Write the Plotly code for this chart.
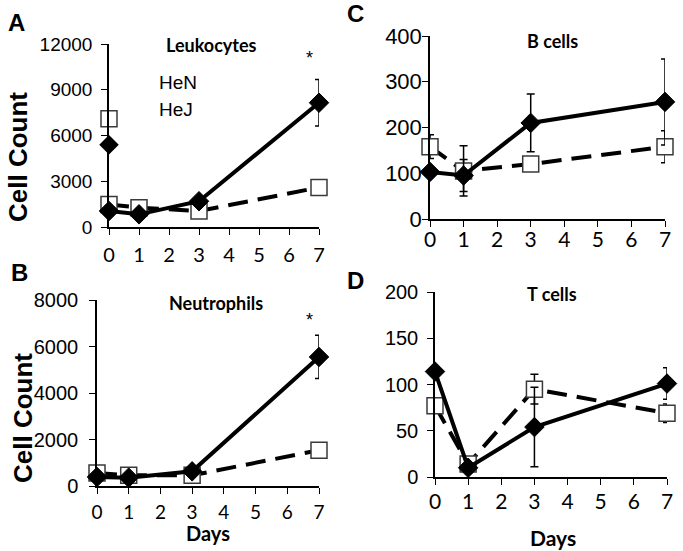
import plotly.graph_objects as go

W, H = 683, 551

days = [0, 1, 3, 7]
x_ticks = [0, 1, 2, 3, 4, 5, 6, 7]

# Panel A: Leukocytes
leuk_hen = [1050, 830, 1690, 8150]
leuk_hen_err = [0, 0, 0, 1520]
leuk_hej = [1470, 1270, 1050, 2590]
leuk_hej_err = [0, 0, 0, 0]
leuk_extra_day = [0]
leuk_extra_hen = [5400]
leuk_extra_hej = [7100]

# Panel B: Neutrophils
neut_hen = [390, 360, 630, 5550]
neut_hen_err = [0, 0, 0, 930]
neut_hej = [560, 460, 460, 1540]
neut_hej_err = [0, 0, 0, 0]

# Panel C: B cells
bc_hen = [103, 95, 210, 256]
bc_hen_err = [0, 35, 63, 94]
bc_hej = [158, 105, 120, 158]
bc_hej_err = [26, 55, 0, 35]

# Panel D: T cells
tc_hen = [114, 10, 54, 101]
tc_hen_err = [0, 0, 43, 17]
tc_hej = [77, 14, 95, 69]
tc_hej_err = [0, 0, 16, 10]

ARIAL = "Arial, Liberation Sans, sans-serif"
CAL = "Lato, Carlito, sans-serif"

fig = go.Figure()


def add_pair(xa, ya, hen, hen_err, hej, hej_err):
    fig.add_trace(go.Scatter(
        x=days, y=hej, xaxis=xa, yaxis=ya, mode="lines+markers", name="HeJ",
        line=dict(color="black", width=4, dash="20px,10px"),
        marker=dict(symbol="square", size=16, color="white",
                    line=dict(color="#3a3a3a", width=1.5)),
        error_y=dict(type="data", array=hej_err, visible=True, color="black",
                     thickness=1.5, width=4),
        cliponaxis=False, showlegend=False))
    fig.add_trace(go.Scatter(
        x=days, y=hen, xaxis=xa, yaxis=ya, mode="lines+markers", name="HeN",
        line=dict(color="black", width=4),
        marker=dict(symbol="diamond", size=15, color="black",
                    line=dict(color="black", width=1)),
        error_y=dict(type="data", array=hen_err, visible=True, color="black",
                     thickness=1.5, width=4),
        cliponaxis=False, showlegend=False))


add_pair("x", "y", leuk_hen, leuk_hen_err, leuk_hej, leuk_hej_err)
fig.add_trace(go.Scatter(
    x=leuk_extra_day, y=leuk_extra_hej, xaxis="x", yaxis="y", mode="markers",
    marker=dict(symbol="square", size=16, color="white",
                line=dict(color="#3a3a3a", width=1.5)),
    cliponaxis=False, showlegend=False))
fig.add_trace(go.Scatter(
    x=leuk_extra_day, y=leuk_extra_hen, xaxis="x", yaxis="y", mode="markers",
    marker=dict(symbol="diamond", size=15, color="black"),
    cliponaxis=False, showlegend=False))
add_pair("x2", "y2", neut_hen, neut_hen_err, neut_hej, neut_hej_err)
add_pair("x3", "y3", bc_hen, bc_hen_err, bc_hej, bc_hej_err)
add_pair("x4", "y4", tc_hen, tc_hen_err, tc_hej, tc_hej_err)


def xax(domain, anchor, size, standoff):
    return dict(domain=domain, anchor=anchor, range=[0, 7], tickvals=x_ticks,
                showline=True, linecolor="black", linewidth=1.5,
                ticks="outside", ticklen=6, tickcolor="black", tickwidth=1.2,
                showgrid=False, zeroline=False, automargin=False,
                tickfont=dict(family=CAL, size=size, color="black"),
                ticklabelstandoff=standoff)


def yax(domain, anchor, rng, dtick, size, standoff):
    return dict(domain=domain, anchor=anchor, range=rng, dtick=dtick,
                tick0=0, tickformat="d", showline=True, linecolor="black",
                linewidth=1.5, ticks="outside", ticklen=6, tickcolor="black",
                tickwidth=1.2, showgrid=False, zeroline=False, automargin=False,
                tickfont=dict(family=ARIAL, size=size, color="black"),
                ticklabelstandoff=standoff)


def fx(px):
    return px / W


def fy(py):
    return 1 - py / H


fig.update_layout(
    template="none",
    width=W, height=H, margin=dict(l=0, r=0, t=0, b=0, autoexpand=False),
    paper_bgcolor="white", plot_bgcolor="white",
    xaxis=xax([fx(109), fx(319)], "y", 20, 3),
    yaxis=yax([fy(227), fy(44)], "x", [0, 12000], 3000, 19, 5),
    xaxis2=xax([fx(97), fx(319)], "y2", 19, 2),
    yaxis2=yax([fy(486), fy(300)], "x2", [0, 8000], 2000, 20, 7),
    xaxis3=xax([fx(430), fx(665)], "y3", 21, -5),
    yaxis3=yax([fy(219), fy(36)], "x3", [0, 400], 100, 22, -4),
    xaxis4=xax([fx(435), fx(667)], "y4", 21, -1),
    yaxis4=yax([fy(477), fy(292)], "x4", [0, 200], 50, 20, 5),
)

annots = []


def ann(text, x, y, size, family=ARIAL, bold=False, angle=0, xanchor="center"):
    t = f"<b>{text}</b>" if bold else text
    annots.append(dict(text=t, x=fx(x), y=fy(y), xref="paper", yref="paper",
                       xanchor=xanchor, yanchor="middle", showarrow=False,
                       textangle=angle,
                       font=dict(family=family, size=size, color="black")))


# panel letters
ann("A", 16, 23, 24, bold=True)
ann("B", 19, 272, 24, bold=True)
ann("C", 355, 13, 24, bold=True)
ann("D", 355, 280, 24, bold=True)
# titles
ann("Leukocytes", 211, 45, 18, family=CAL, bold=True)
ann("Neutrophils", 216, 303, 18, family=CAL, bold=True)
ann("B cells", 552, 41, 18, family=CAL, bold=True)
ann("T cells", 552, 294, 18, family=CAL, bold=True)
# legend text
ann("HeN", 157, 82, 19, xanchor="left")
ann("HeJ", 157, 109, 19, xanchor="left")
# axis titles
ann("Cell Count", 18, 157, 26, bold=True, angle=-90)
ann("Cell Count", 23, 418, 26, bold=True, angle=-90)
ann("Days", 208, 533, 20, family=CAL, bold=True)
ann("Days", 553, 537, 21, family=CAL, bold=True)
# significance marks
ann("*", 309, 58, 18)
ann("*", 309, 320, 18)

fig.update_layout(annotations=annots)
fig.write_html(
    "out.html",
    config={"displayModeBar": False},
    post_script="document.body.style.margin='0';"
                "document.body.style.overflow='hidden';",
)
